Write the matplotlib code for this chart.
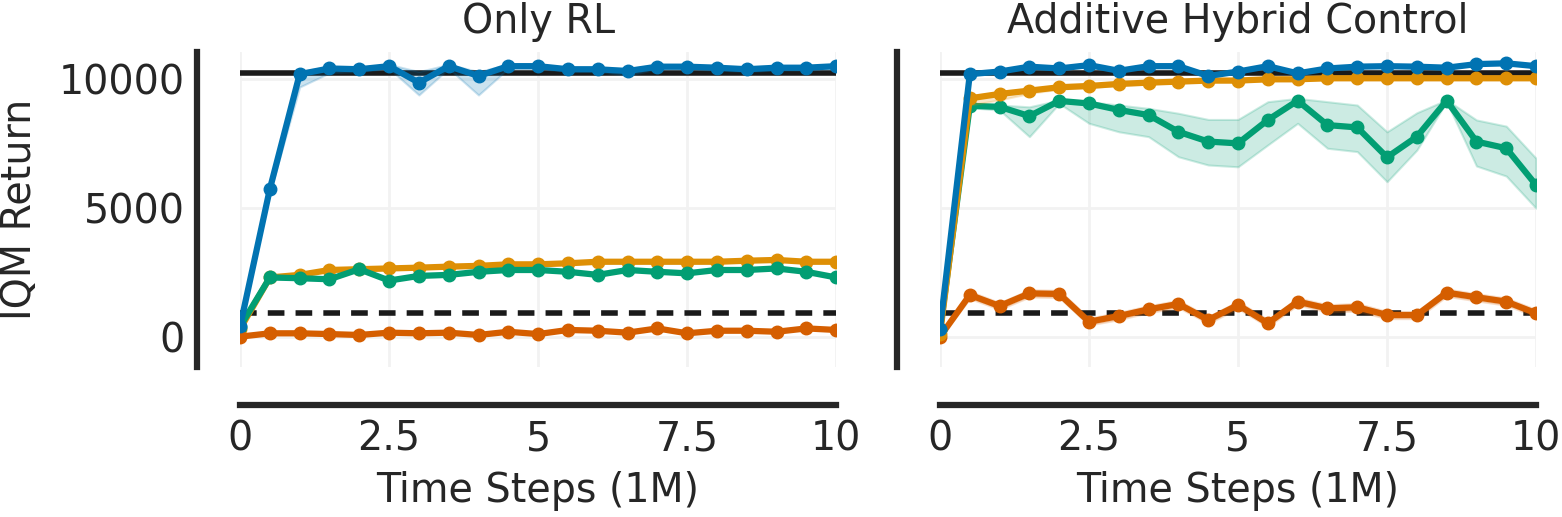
import numpy as np
import matplotlib.pyplot as plt
import seaborn as sns

sns.set_theme(style="whitegrid")
plt.rcParams['font.family'] = ['DejaVu Sans']

# ================================
# Data
# ================================

steps = np.arange(0, 10.01, 0.5)   # 1M time steps

# --- Only RL ---
rl_blue = [400, 5740, 10200, 10420, 10390, 10510, 9870, 10510, 10130, 10510,
           10510, 10390, 10390, 10320, 10490, 10490, 10450, 10390, 10450, 10450, 10510]
rl_blue_lo = [300, 5600, 9700, 10250, 10300, 10420, 9390, 10420, 9390, 10420,
              10420, 10300, 10300, 10150, 10400, 10400, 10360, 10300, 10360, 10360, 10420]
rl_blue_hi = [500, 5900, 10300, 10500, 10470, 10580, 10300, 10580, 10300, 10580,
              10580, 10470, 10470, 10420, 10560, 10560, 10520, 10470, 10520, 10520, 10580]
rl_orange = [300, 2300, 2400, 2590, 2620, 2650, 2680, 2720, 2750, 2810,
             2810, 2850, 2910, 2910, 2910, 2910, 2910, 2950, 2980, 2910, 2910]
rl_green = [390, 2300, 2270, 2230, 2620, 2180, 2360, 2400, 2520, 2590,
            2590, 2520, 2400, 2590, 2520, 2460, 2590, 2590, 2650, 2520, 2300]
rl_red = [0, 130, 130, 100, 65, 155, 130, 155, 65, 190,
          100, 260, 230, 155, 320, 130, 230, 230, 190, 320, 260]

# --- Additive Hybrid Control ---
hy_blue = [300, 10200, 10300, 10490, 10420, 10550, 10330, 10510, 10510, 10130,
           10300, 10510, 10230, 10420, 10490, 10510, 10490, 10450, 10590, 10620, 10510]
hy_orange = [100, 9260, 9430, 9560, 9690, 9740, 9820, 9870, 9910, 9950,
             9950, 10000, 10000, 10040, 10040, 10040, 10040, 10040, 10040, 10040, 10040]
hy_orange_lo = [50, 9000, 9200, 9450, 9620, 9680, 9760, 9820, 9860, 9900,
                9900, 9950, 9950, 9990, 9990, 9990, 9990, 9990, 9990, 9990, 9990]
hy_orange_hi = [150, 9350, 9500, 9620, 9750, 9800, 9870, 9920, 9960, 10000,
                10000, 10050, 10050, 10090, 10090, 10090, 10090, 10090, 10090, 10090, 10090]
hy_green = [260, 8970, 8930, 8570, 9160, 9060, 8810, 8610, 7960, 7580,
            7510, 8420, 9170, 8220, 8130, 6970, 7770, 9170, 7580, 7320, 5890]
hy_green_lo = [200, 8900, 8800, 7770, 9060, 8290, 7960, 7770, 6990, 6670,
               6600, 7450, 8290, 7320, 7190, 6020, 7250, 9130, 6630, 6240, 4990]
hy_green_hi = [320, 9000, 9000, 8930, 9190, 9130, 9000, 8870, 8680, 8440,
               8440, 9130, 9260, 9130, 9000, 7960, 8700, 9200, 8420, 8180, 6930]
hy_red = [0, 1620, 1190, 1680, 1660, 580, 800, 1060, 1270, 650,
          1230, 520, 1360, 1100, 1140, 840, 840, 1710, 1530, 1360, 910]
hy_red_lo = [-50, 1480, 1060, 1540, 1520, 450, 660, 930, 1130, 520,
             1090, 390, 1230, 960, 990, 700, 700, 1570, 1390, 1220, 780]
hy_red_hi = [50, 1760, 1320, 1820, 1800, 720, 940, 1200, 1410, 780,
             1370, 660, 1500, 1240, 1290, 980, 980, 1850, 1670, 1500, 1050]

expert_level = 10230   # solid reference line
baseline_level = 920   # dashed reference line

titles = ["Only RL", "Additive Hybrid Control"]
xticks = [0, 2.5, 5, 7.5, 10]
xticklabels = ["0", "2.5", "5", "7.5", "10"]
yticks = [0, 5000, 10000]

colors = {"blue": "#0173b2", "orange": "#de8f05", "green": "#029e73", "red": "#d55e00"}

# ================================
# Plot
# ================================

FS = 28.5

fig = plt.figure(figsize=(15.62, 5.17), dpi=100)
ax1 = fig.add_axes([0.1537, 0.2901, 0.3816, 0.6093])
ax2 = fig.add_axes([0.6018, 0.2901, 0.3816, 0.6093], sharey=ax1)

panels = [
    (ax1, [("orange", rl_orange, None, None),
           ("green", rl_green, None, None),
           ("red", rl_red, None, None),
           ("blue", rl_blue, rl_blue_lo, rl_blue_hi)]),
    (ax2, [("red", hy_red, hy_red_lo, hy_red_hi),
           ("green", hy_green, hy_green_lo, hy_green_hi),
           ("orange", hy_orange, hy_orange_lo, hy_orange_hi),
           ("blue", hy_blue, None, None)]),
]

for k, (ax, series) in enumerate(panels):
    ax.axhline(expert_level, color="#1a1a1a", lw=4, zorder=2)
    ax.axhline(baseline_level, color="#1a1a1a", lw=4, ls=(0, (3, 2)), zorder=2)
    for z, (name, vals, lo, hi) in enumerate(series):
        c = colors[name]
        if lo is not None:
            ax.fill_between(steps, lo, hi, color=c, alpha=0.2, lw=1.5, zorder=3 + z)
        ax.plot(steps, vals, color=c, lw=4.5, marker="o", ms=9, zorder=3 + z)

    ax.set_xlim(0, 10)
    ax.set_ylim(-1180, 11060)
    ax.set_xticks(xticks)
    ax.set_xticklabels(xticklabels)
    ax.set_yticks(yticks)
    ax.set_title(titles[k], fontsize=FS, pad=14)
    ax.set_xlabel("Time Steps (1M)", fontsize=FS, labelpad=8)
    ax.grid(True, color="#f2f2f2", lw=2)
    ax.tick_params(axis="both", labelsize=FS, length=0, colors="#262626")
    ax.tick_params(axis="x", pad=11)
    ax.tick_params(axis="y", pad=9)

    for s in ["top", "right"]:
        ax.spines[s].set_visible(False)
    ax.spines["left"].set_position(("outward", 31))
    ax.spines["bottom"].set_position(("outward", 27))
    ax.spines["left"].set_linewidth(4.5)
    ax.spines["bottom"].set_linewidth(4.5)
    ax.spines["left"].set_color("#262626")
    ax.spines["bottom"].set_color("#262626")

ax1.set_ylabel("IQM Return", fontsize=FS, labelpad=13)
plt.setp(ax2.get_yticklabels(), visible=False)

plt.savefig("out.png", dpi=100)
